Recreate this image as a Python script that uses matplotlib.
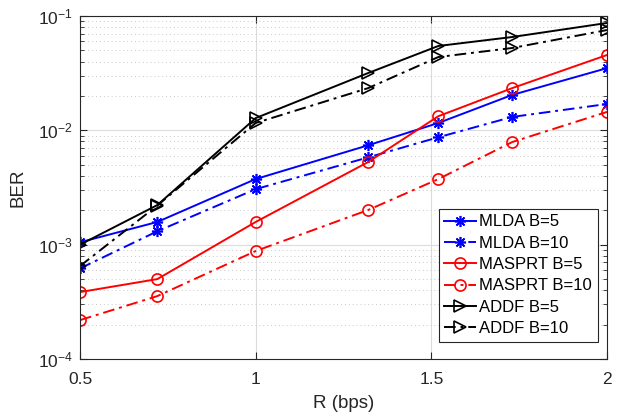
import matplotlib
matplotlib.use("Agg")
import matplotlib.pyplot as plt
from matplotlib.ticker import LogLocator, FixedLocator, NullFormatter

R = [0.5, 0.72, 1.0, 1.32, 1.52, 1.73, 2.0]
mlda_b5 = [1.05e-3, 1.58e-3, 3.75e-3, 7.4e-3, 1.16e-2, 2.04e-2, 3.5e-2]
mlda_b10 = [6.2e-4, 1.31e-3, 3.06e-3, 5.8e-3, 8.7e-3, 1.31e-2, 1.7e-2]
masprt_b5 = [3.85e-4, 5.0e-4, 1.58e-3, 5.28e-3, 1.33e-2, 2.34e-2, 4.56e-2]
masprt_b10 = [2.19e-4, 3.55e-4, 8.8e-4, 2.01e-3, 3.75e-3, 7.9e-3, 1.45e-2]
addf_b5 = [1.0e-3, 2.22e-3, 1.28e-2, 3.17e-2, 5.47e-2, 6.55e-2, 8.69e-2]
addf_b10 = [6.5e-4, 2.2e-3, 1.16e-2, 2.34e-2, 4.38e-2, 5.25e-2, 7.54e-2]

labels = ["MLDA B=5", "MLDA B=10", "MASPRT B=5", "MASPRT B=10", "ADDF B=5", "ADDF B=10"]
xticks = [0.5, 1, 1.5, 2]
xticklabels = ["0.5", "1", "1.5", "2"]

plt.rcParams['font.family'] = ['Liberation Sans', 'DejaVu Sans']
plt.rcParams['mathtext.fontset'] = 'custom'
plt.rcParams['mathtext.rm'] = 'Liberation Sans'
plt.rcParams['mathtext.it'] = 'Liberation Sans'

fig = plt.figure(figsize=(6.28, 4.18), dpi=100)
ax = fig.add_axes([0.1274, 0.1411, 0.8392, 0.8206])

dashdot = (0, (6, 2.5, 1.5, 2.5))
asterisk = (8, 2, 0)
series = [
    (mlda_b5, 'b', '-', asterisk),
    (mlda_b10, 'b', dashdot, asterisk),
    (masprt_b5, 'r', '-', 'o'),
    (masprt_b10, 'r', dashdot, 'o'),
    (addf_b5, 'k', '-', '>'),
    (addf_b10, 'k', dashdot, '>'),
]
for (vals, c, ls, mk), lab in zip(series, labels):
    ax.plot(R, vals, color=c, linestyle=ls, marker=mk, markersize=8,
            markerfacecolor='none', markeredgecolor=c, markeredgewidth=1.2,
            linewidth=1.4, label=lab)

ax.set_yscale('log')
ax.set_xlim(0.5, 2)
ax.set_ylim(1e-4, 1e-1)
ax.set_xticks(xticks)
ax.set_xticklabels(xticklabels)
ax.set_yticks([1e-4, 1e-3, 1e-2, 1e-1])
ax.set_yticklabels([r'$10^{-4}$', r'$10^{-3}$', r'$10^{-2}$', r'$10^{-1}$'])
ax.yaxis.set_minor_locator(LogLocator(base=10, subs=range(2, 10)))
ax.yaxis.set_minor_formatter(NullFormatter())
ax.xaxis.set_minor_locator(FixedLocator([]))

ax.grid(True, which='major', color='#dcdcdc', linestyle='-', linewidth=0.8)
ax.grid(True, which='minor', axis='y', color='#c8c8c8', linestyle=(0, (1, 3)), linewidth=0.7)
ax.set_axisbelow(True)

ax.tick_params(which='both', direction='in', top=True, right=True, colors='#262626',
               labelsize=12.5, labelcolor='#262626')
ax.tick_params(which='major', length=5, width=0.8)
ax.tick_params(which='minor', length=3, width=0.6)
ax.tick_params(axis='x', which='major', pad=9)
ax.tick_params(axis='y', which='major', pad=5)
for s in ax.spines.values():
    s.set_color('#262626')
    s.set_linewidth(0.8)

ax.set_xlabel('R (bps)', fontsize=13.5, color='#262626', labelpad=6)
ax.set_ylabel('BER', fontsize=13.5, color='#262626', labelpad=8)

leg = ax.legend(loc='lower right', bbox_to_anchor=(0.983, 0.05), fontsize=12,
                frameon=True, fancybox=False, edgecolor='#262626', framealpha=1,
                handlelength=1.9, handletextpad=0.2, borderpad=0.35, labelspacing=0.38,
                borderaxespad=0)
leg.get_frame().set_linewidth(0.8)

fig.savefig('out.png', dpi=100)
